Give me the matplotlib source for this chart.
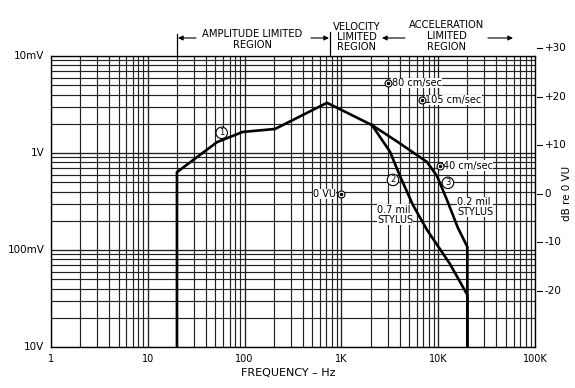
import numpy as np
import matplotlib.pyplot as plt
from matplotlib.ticker import FixedLocator, NullLocator

# values: frequency (Hz) and level (dB re 0 VU)
DB_MIN = -31.55          # bottom of the grid (10V line)
DB_MAX = 28.45           # top of the grid (10mV line)

common_f = [20, 20, 52, 96, 206, 710, 2070]
common_db = [DB_MIN, 4.5, 10.7, 12.8, 13.4, 18.8, 14.2]

stylus07_f = [2070, 3180, 4030, 5490, 7660, 13200, 20000, 20000]
stylus07_db = [14.2, 8.7, 3.7, -2.3, -7.4, -14.4, -20.8, DB_MIN]

stylus02_f = [2070, 3840, 7660, 9720, 12300, 16000, 20000, 20000]
stylus02_db = [14.2, 10.7, 6.6, 3.7, -1.2, -7.0, -10.9, DB_MIN]

x_ticks = [1, 10, 100, 1000, 10000, 100000]
x_labels = ["1", "10", "100", "1K", "10K", "100K"]
volt_labels = ["10V", "100mV", "1V", "10mV"]      # bottom to top, as printed
db_ticks = [30, 20, 10, 0, -10, -20]
db_labels = ["+30", "+20", "+10", "0", "-10", "-20"]

W, H = 575, 388
fig = plt.figure(figsize=(W / 100, H / 100), dpi=100)
fig.patch.set_facecolor("white")
L, R, T, B = 51, 535, 56, 347
ax = fig.add_axes([L / W, 1 - B / H, (R - L) / W, (B - T) / H])

ax.set_xscale("log")
ax.set_xlim(1, 100000)
ax.set_ylim(DB_MIN, DB_MAX)

gc = "#222222"
# vertical log grid
for d in range(5):
    for k in range(1, 11):
        ax.axvline(10 ** d * k, color=gc, lw=0.85, zorder=1)
# horizontal log grid (voltage decades = 20 dB)
for d in range(3):
    for k in range(1, 11):
        ax.axhline(DB_MIN + 20 * d + 20 * np.log10(k), color=gc, lw=0.85, zorder=1)

for s in ax.spines.values():
    s.set_color("black")
    s.set_linewidth(1.0)

# curves
lw = 1.9
ax.plot(common_f, common_db, color="black", lw=lw, zorder=3, solid_joinstyle="round")
ax.plot(stylus07_f, stylus07_db, color="black", lw=lw, zorder=3, solid_joinstyle="round")
ax.plot(stylus02_f, stylus02_db, color="black", lw=lw, zorder=3, solid_joinstyle="round")

# x ticks
ax.xaxis.set_major_locator(FixedLocator(x_ticks))
ax.xaxis.set_minor_locator(NullLocator())
ax.set_xticklabels(x_labels, fontsize=7)
ax.tick_params(axis="x", length=0, pad=5)
ax.yaxis.set_major_locator(NullLocator())
ax.yaxis.set_minor_locator(NullLocator())

# left voltage labels
ytr = ax.get_yaxis_transform()
for i, lab in enumerate(volt_labels):
    ax.text(-0.014, DB_MIN + 20 * i, lab, transform=ytr, ha="right", va="center",
            fontsize=7.5, clip_on=False)

# right dB scale
for v, lab in zip(db_ticks, db_labels):
    ax.plot([1.004, 1.015], [v, v], transform=ytr, color="black", lw=0.8, clip_on=False)
    ax.text(1.020, v, lab, transform=ytr, ha="left", va="center", fontsize=7.5,
            clip_on=False)
fig.text(567 / W, 1 - 193 / H, "dB re 0 VU", rotation=90, ha="center", va="center",
         fontsize=7.5)

fig.text(288 / W, 1 - 373 / H, "FREQUENCY \u2013 Hz", ha="center", va="center", fontsize=8)

# region headers
def ftxt(x, y, s, **kw):
    fig.text(x / W, 1 - y / H, s, ha="center", va="center", fontsize=7.2, **kw)

def farrow(x0, x1, y):
    ax.annotate("", xy=(x1 / W, 1 - y / H), xytext=(x0 / W, 1 - y / H),
                xycoords="figure fraction", textcoords="figure fraction",
                arrowprops=dict(arrowstyle="-|>", color="black", lw=0.8,
                                mutation_scale=7, shrinkA=0, shrinkB=0))

def fbar(x, y0, y1):
    fig.add_artist(plt.Line2D([x / W, x / W], [1 - y0 / H, 1 - y1 / H],
                              color="black", lw=0.9))

ftxt(252, 34, "AMPLITUDE LIMITED")
ftxt(252, 45, "REGION")
fbar(177, 34, 56)
farrow(196, 178, 38)
farrow(311, 329, 38)
fbar(330, 32, 56)

ftxt(357, 27, "VELOCITY")
ftxt(357, 37, "LIMITED")
ftxt(357, 47, "REGION")
farrow(405, 382, 38)

ftxt(447, 25, "ACCELERATION")
ftxt(447, 36, "LIMITED")
ftxt(447, 47, "REGION")
farrow(488, 513, 38)

# annotations on the chart (white boxes sit above the grid, below the curves)
def dot_marker(f, db):
    ax.plot([f], [db], marker="o", ms=5, mfc="white", mec="black", mew=0.8, zorder=5)
    ax.plot([f], [db], marker="o", ms=1.5, color="black", zorder=6)

def circled(f, db, s):
    ax.text(f, db, s, ha="center", va="center", fontsize=6, zorder=6,
            bbox=dict(boxstyle="circle,pad=0.15", fc="white", ec="black", lw=0.8))

def label(f, db, s, ha="left"):
    ax.text(f, db, s, fontsize=7, va="center", ha=ha, zorder=2, linespacing=1.0,
            bbox=dict(fc="white", ec="none", pad=0.3))

dot_marker(3030, 22.9)
label(3300, 22.9, "80 cm/sec")
dot_marker(6800, 19.4)
label(7300, 19.4, "105 cm/sec")
dot_marker(10400, 5.8)
label(11200, 5.8, "40 cm/sec")
dot_marker(1000, 0)
label(880, 0, "0 VU", ha="right")

circled(58, 12.6, "1")
circled(3410, 2.9, "2")
circled(12600, 2.3, "3")

label(2330, -4.3, "0.7 mil\nSTYLUS")
label(15600, -2.7, "0.2 mil\nSTYLUS")

fig.savefig("out.png", dpi=100, facecolor="white")
